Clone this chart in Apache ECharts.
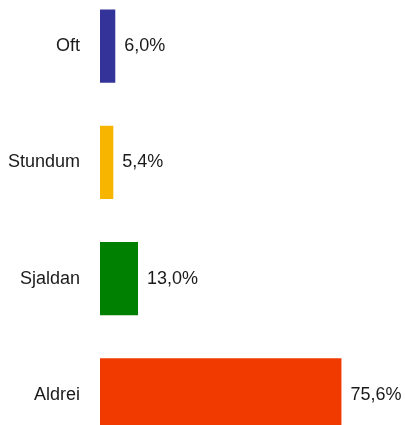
<!DOCTYPE html>
<html>
<head>
<meta charset="utf-8">
<script src="https://cdn.jsdelivr.net/npm/echarts@6/dist/echarts.min.js"></script>
<style>
  html, body { margin: 0; padding: 0; background: #fff; overflow: hidden; }
  body { width: 405px; height: 425px; position: relative; }
  /* taller than the window: the last bar runs off the bottom edge like the original */
  #chart { position: absolute; left: 0; top: -12px; width: 405px; height: 465px; }
</style>
</head>
<body>
<div id="chart"></div>
<script>
const categories = ['Oft', 'Stundum', 'Sjaldan', 'Aldrei'];
const values = [6.0, 5.4, 13.0, 75.6];
const colors = ['#333399', '#f7b500', '#008000', '#f03a00'];

const chart = echarts.init(document.getElementById('chart'));

chart.setOption({
  animation: false,
  textStyle: { fontFamily: 'Liberation Sans, Arial, sans-serif' },
  grid: { left: 100, top: 0, width: 259, bottom: 0 },
  xAxis: {
    type: 'value',
    min: 1.3,
    max: 81,
    show: false,
  },
  yAxis: {
    type: 'category',
    data: categories,
    inverse: true,
    axisLine: { show: false },
    axisTick: { show: false },
    splitLine: { show: false },
    axisLabel: {
      margin: 20,
      fontSize: 18,
      color: '#1a1a1a',
    },
  },
  series: [
    {
      type: 'bar',
      barCategoryGap: '37%',
      data: values.map((v, i) => ({
        value: v,
        itemStyle: { color: colors[i] },
      })),
      label: {
        show: true,
        position: 'right',
        distance: 9,
        fontSize: 18,
        color: '#1a1a1a',
        formatter: (p) => p.value.toFixed(1).replace('.', ',') + '%',
      },
    },
  ],
});
</script>
</body>
</html>
